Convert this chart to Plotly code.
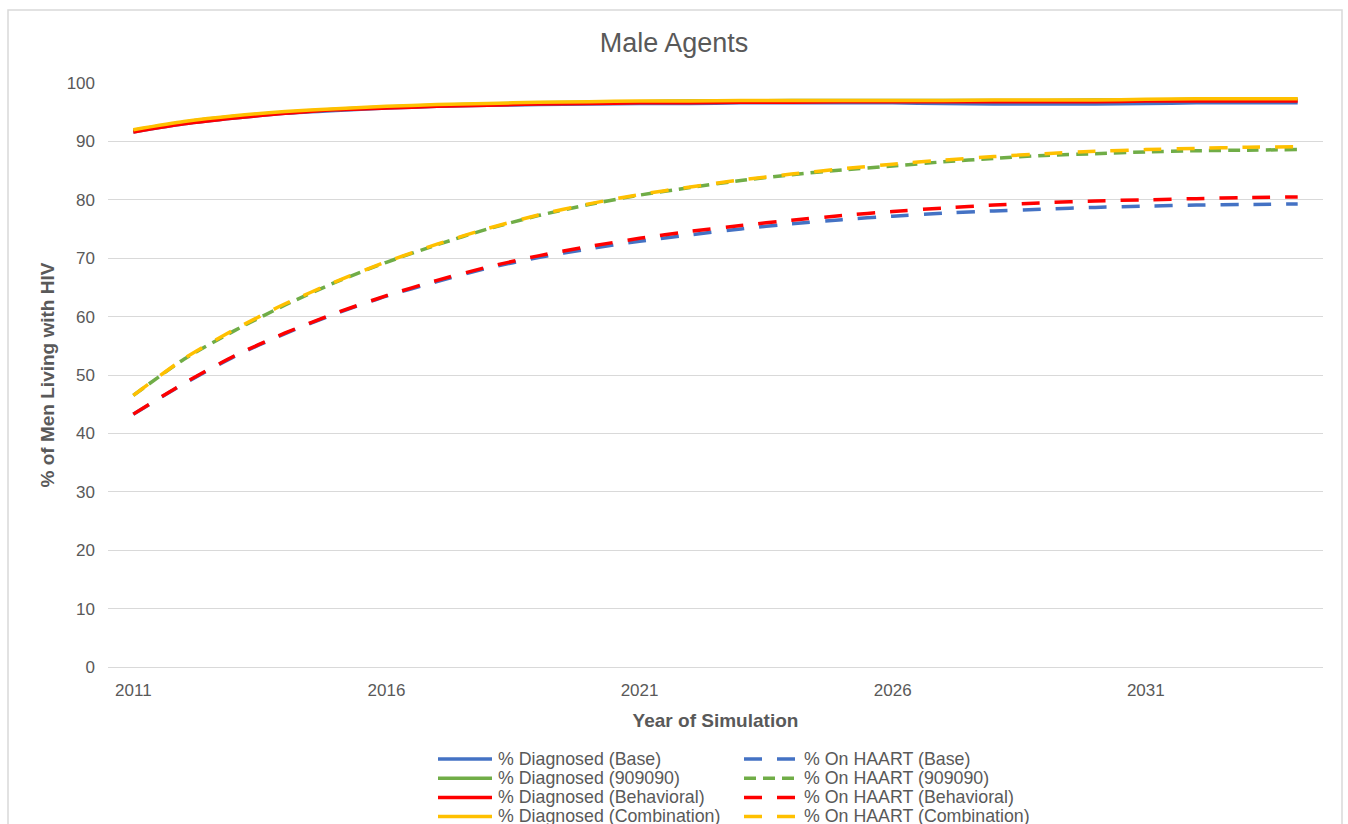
import plotly.graph_objects as go

# ---------------- data ----------------
years = list(range(2011, 2035))

diag_base = [91.6, 93.0, 94.0, 94.8, 95.3, 95.7, 96.0, 96.2, 96.3, 96.4, 96.5, 96.5,
             96.6, 96.6, 96.6, 96.6, 96.5, 96.4, 96.4, 96.4, 96.5, 96.6, 96.6, 96.6]
haart_base = [43.3, 48.5, 53.2, 57.1, 60.5, 63.5, 66.0, 68.3, 70.1, 71.6, 72.9, 74.0,
              75.0, 75.9, 76.6, 77.2, 77.7, 78.1, 78.4, 78.7, 78.9, 79.1, 79.2, 79.3]
diag_909090 = [91.9, 93.3, 94.3, 95.0, 95.5, 95.9, 96.2, 96.4, 96.6, 96.7, 96.8, 96.9,
               96.9, 97.0, 97.0, 97.0, 97.0, 97.0, 97.0, 97.1, 97.1, 97.2, 97.2, 97.2]
haart_909090 = [46.5, 52.7, 57.6, 62.0, 65.9, 69.3, 72.3, 75.0, 77.3, 79.2, 80.8, 82.1,
                83.3, 84.3, 85.1, 85.8, 86.5, 87.1, 87.6, 87.9, 88.2, 88.4, 88.5, 88.6]
diag_behav = [91.6, 93.0, 94.0, 94.8, 95.4, 95.7, 96.0, 96.2, 96.4, 96.5, 96.6, 96.6,
              96.7, 96.7, 96.8, 96.8, 96.8, 96.8, 96.8, 96.8, 96.9, 96.9, 96.9, 96.9]
haart_behav = [43.3, 48.6, 53.3, 57.2, 60.6, 63.6, 66.2, 68.5, 70.4, 72.0, 73.4, 74.6,
               75.6, 76.5, 77.3, 78.0, 78.6, 79.1, 79.5, 79.8, 80.0, 80.2, 80.4, 80.5]
diag_comb = [92.0, 93.4, 94.4, 95.1, 95.6, 96.0, 96.3, 96.5, 96.7, 96.8, 96.9, 96.9,
             97.0, 97.0, 97.0, 97.0, 97.0, 97.1, 97.1, 97.1, 97.2, 97.3, 97.3, 97.3]
haart_comb = [46.5, 52.8, 57.8, 62.2, 66.0, 69.4, 72.4, 75.1, 77.4, 79.3, 80.9, 82.2,
              83.4, 84.4, 85.3, 86.1, 86.8, 87.4, 87.9, 88.3, 88.6, 88.8, 89.0, 89.1]

x_tick_vals = [2011, 2016, 2021, 2026, 2031]
y_tick_vals = [0, 10, 20, 30, 40, 50, 60, 70, 80, 90, 100]

series_names = ["% Diagnosed (Base)", "% On HAART (Base)",
                "% Diagnosed (909090)", "% On HAART (909090)",
                "% Diagnosed (Behavioral)", "% On HAART (Behavioral)",
                "% Diagnosed (Combination)", "% On HAART (Combination)"]
series_values = [diag_base, haart_base, diag_909090, haart_909090,
                 diag_behav, haart_behav, diag_comb, haart_comb]

# ---------------- styles ----------------
BLUE, GREEN, RED, YELLOW = "#4472C4", "#70AD47", "#FF0000", "#FFC000"
series_colors = [BLUE, BLUE, GREEN, GREEN, RED, RED, YELLOW, YELLOW]
LONG_DASH = "18px,15px"
SHORT_DASH = "12px,7px"
series_dash = ["solid", LONG_DASH, "solid", SHORT_DASH,
               "solid", LONG_DASH, "solid", LONG_DASH]

FONT = "Liberation Sans, Arial, sans-serif"
GREY_TXT = "#595959"
GRID = "#D9D9D9"

W, H = 1348, 824
PL, PR, PT, PB = 108, 1323, 83, 667   # plot area in pixels


def px_x(px):
    return (px - PL) / (PR - PL)


def px_y(py):
    return (PB - py) / (PB - PT)


fig = go.Figure()
for name, vals, col, dash in zip(series_names, series_values, series_colors, series_dash):
    fig.add_trace(go.Scatter(
        x=years, y=vals, mode="lines", name=name,
        line=dict(color=col, width=3.5, dash=dash, shape="spline", smoothing=0.6),
        showlegend=False,
    ))

shapes = []
annotations = []

# chart border
shapes.append(dict(type="rect", xref="paper", yref="paper",
                   x0=px_x(8), x1=px_x(1342), y0=px_y(845), y1=px_y(10),
                   line=dict(color=GRID, width=1.5), fillcolor="rgba(0,0,0,0)",
                   layer="below"))

# manual legend (two columns, row-wise order)
col_line_x = [(438, 492), (744, 798)]
col_text_x = [496, 802]
row_y = [759, 778.2, 797.4, 816.4]
for i, (name, col, dash) in enumerate(zip(series_names, series_colors, series_dash)):
    r, c = divmod(i, 2)
    x0, x1 = col_line_x[c]
    yy = row_y[r]
    shapes.append(dict(type="line", xref="paper", yref="paper",
                       x0=px_x(x0), x1=px_x(x1), y0=px_y(yy), y1=px_y(yy),
                       line=dict(color=col, width=3.5, dash=dash)))
    annotations.append(dict(text=name, xref="paper", yref="paper",
                            x=px_x(col_text_x[c]), y=px_y(yy),
                            xanchor="left", yanchor="middle", showarrow=False,
                            font=dict(family=FONT, size=17.8, color=GREY_TXT)))

fig.update_layout(
    width=W, height=H,
    margin=dict(l=PL, r=W - PR, t=PT, b=H - PB, autoexpand=False),
    paper_bgcolor="white", plot_bgcolor="white",
    font=dict(family=FONT, size=17, color=GREY_TXT),
    title=dict(text="Male Agents", x=0.5, xref="container", xanchor="center",
               y=1 - 43 / H, yref="container", yanchor="middle",
               font=dict(family=FONT, size=27, color=GREY_TXT)),
    xaxis=dict(range=[2010.5, 2034.5], tickmode="array", tickvals=x_tick_vals,
               showgrid=False, zeroline=False, showline=True, linecolor=GRID,
               ticks="", ticklabelstandoff=8,
               tickfont=dict(family=FONT, size=17, color=GREY_TXT),
               title=dict(text="<b>Year of Simulation</b>", standoff=14,
                          font=dict(family=FONT, size=19, color=GREY_TXT))),
    yaxis=dict(range=[0, 100], tickmode="array", tickvals=y_tick_vals,
               showgrid=True, gridcolor=GRID, gridwidth=1, zeroline=False,
               showline=False, ticks="", ticklabelstandoff=12,
               tickfont=dict(family=FONT, size=17, color=GREY_TXT),
               title=dict(text="<b>% of Men Living with HIV</b>", standoff=6,
                          font=dict(family=FONT, size=19, color=GREY_TXT))),
    shapes=shapes,
    annotations=annotations,
    showlegend=False,
)

fig.write_html("out.html",
               config={"displayModeBar": False},
               post_script="document.body.style.margin='0';document.body.style.overflow='hidden';")
